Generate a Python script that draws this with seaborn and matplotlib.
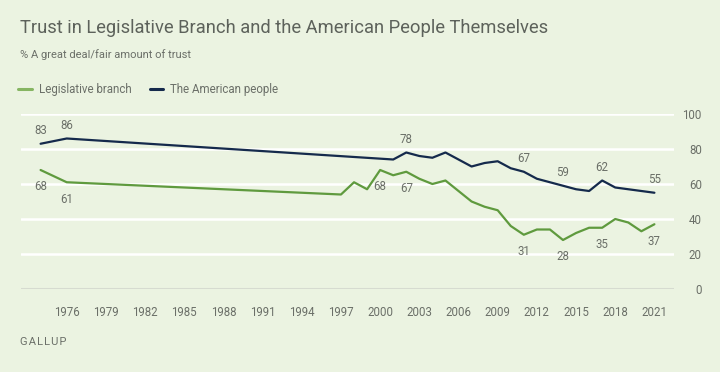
import pandas as pd
import numpy as np
import seaborn as sns
import matplotlib.pyplot as plt

# values
leg_years = [1974, 1976, 1997, 1998, 1999, 2000, 2001, 2002, 2003, 2004, 2005,
             2007, 2008, 2009, 2010, 2011, 2012, 2013, 2014, 2015, 2016, 2017,
             2018, 2019, 2020, 2021]
leg_vals = [68, 61, 54, 61, 57, 68, 65, 67, 63, 60, 62,
            50, 47, 45, 36, 31, 34, 34, 28, 32, 35, 35,
            40, 38, 33, 37]
ppl_years = [1974, 1976, 2001, 2002, 2003, 2004, 2005, 2007, 2008, 2009, 2010,
             2011, 2012, 2013, 2014, 2015, 2016, 2017, 2018, 2019, 2020, 2021]
ppl_vals = [83, 86, 74, 78, 76, 75, 78, 70, 72, 73, 69,
            67, 63, 61, 59, 57, 56, 62, 58, 57, 56, 55]

leg_label_years = [1974, 1976, 2000, 2002, 2011, 2014, 2017, 2021]
ppl_label_years = [1974, 1976, 2002, 2011, 2014, 2017, 2021]

x_ticks = list(range(1976, 2022, 3))
y_ticks = [0, 20, 40, 60, 80, 100]

series = ["Legislative branch", "The American people"]
colors = {"Legislative branch": "#5f9a3e", "The American people": "#152a4c"}

df = pd.concat([
    pd.DataFrame({"year": leg_years, "pct": leg_vals, "series": series[0]}),
    pd.DataFrame({"year": ppl_years, "pct": ppl_vals, "series": series[1]}),
])

bg = "#ebf3e1"
txt = "#6b6f68"

sns.set_style("white")
plt.rcParams["font.family"] = ["Roboto", "DejaVu Sans"]

fig = plt.figure(figsize=(7.2, 3.72), dpi=100, facecolor=bg)
ax = fig.add_axes([21 / 720, 1 - 289 / 372, (674 - 21) / 720, (289 - 114) / 372])
ax.set_facecolor(bg)

for y in y_ticks[1:]:
    ax.axhline(y, color="white", lw=1.8, zorder=0)
ax.axhline(0, color="#d6dbd0", lw=2.2, zorder=1)

sns.lineplot(data=df, x="year", y="pct", hue="series", palette=colors,
             linewidth=1.6, ax=ax, legend=False, zorder=3, clip_on=False)

# value labels
for yr in ppl_label_years:
    v = ppl_vals[ppl_years.index(yr)]
    ax.annotate(str(v), (yr, v), xytext=(0, 9.2), textcoords="offset points",
                ha="center", va="center", fontsize=8.3, color=txt)
for yr in leg_label_years:
    v = leg_vals[leg_years.index(yr)]
    ax.annotate(str(v), (yr, v), xytext=(0, -12.2), textcoords="offset points",
                ha="center", va="center", fontsize=8.3, color=txt)

ax.set_xlim(1972.5, 2022.5)
ax.set_ylim(0, 100)
ax.set_xticks(x_ticks)
ax.set_yticks(y_ticks)
ax.yaxis.tick_right()
ax.tick_params(axis="x", length=8, width=1.2, color="white", pad=4,
               labelsize=8.3, labelcolor=txt)
ax.tick_params(axis="y", length=0, pad=20, labelsize=8.3, labelcolor=txt)
for lab in ax.get_yticklabels():
    lab.set_horizontalalignment("right")
ax.set_xlabel("")
ax.set_ylabel("")
sns.despine(ax=ax, left=True, bottom=True, right=True, top=True)

handles = [plt.Line2D([], [], color=colors[s], lw=2.2) for s in series]
handles[0].set_color("#86b562")
fig.legend(handles, series, loc="center left", bbox_to_anchor=(8 / 720, 1 - 90 / 372),
           ncol=2, frameon=False, handlelength=1.2, handletextpad=0.55,
           columnspacing=1.6, fontsize=8.3, labelcolor=txt)

fig.text(20 / 720, 1 - 28 / 372, "Trust in Legislative Branch and the American People Themselves",
         fontsize=13.2, color="#5d625b", va="center", ha="left")
fig.text(20 / 720, 1 - 55 / 372, "% A great deal/fair amount of trust",
         fontsize=8, color=txt, va="center", ha="left")
fig.text(20 / 720, 1 - 342 / 372, "G A L L U P".replace(" ", "\u200a"),
         fontsize=8, color=txt, va="center", ha="left")

fig.savefig("out.png", dpi=100, facecolor=bg)
